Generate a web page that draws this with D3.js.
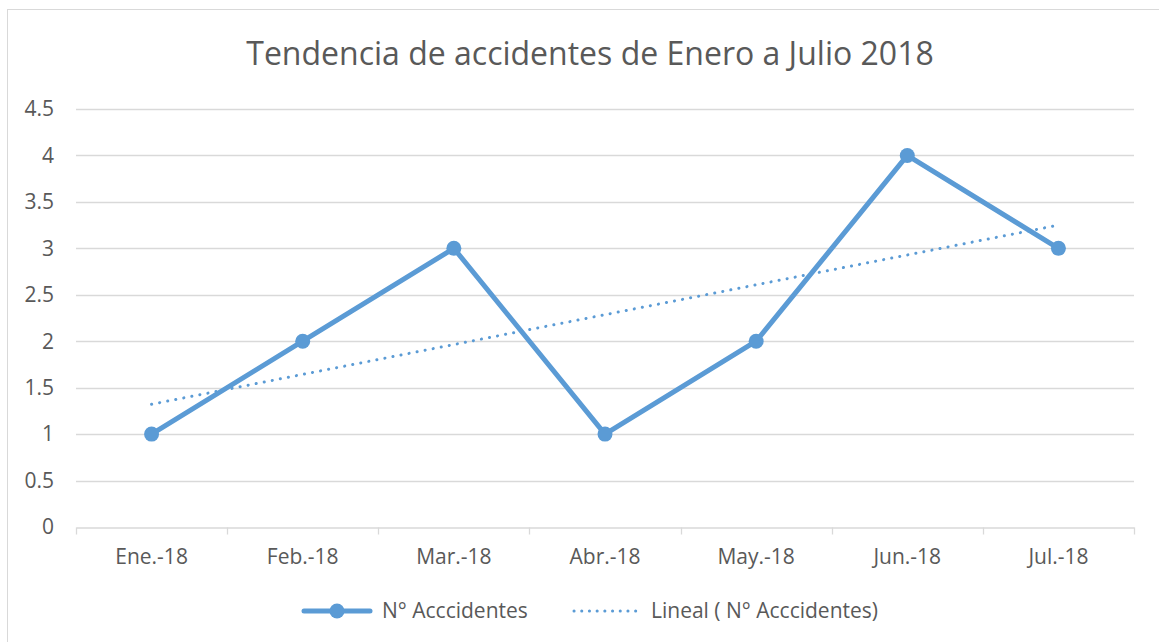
<!DOCTYPE html>
<html>
<head>
<meta charset="utf-8">
<script src="https://cdn.jsdelivr.net/npm/d3@7"></script>
<style>
  body { margin: 0; background: #fff; }
  text { font-family: "Open Sans", "Liberation Sans", sans-serif; fill: #595959; }
</style>
</head>
<body>
<script>
// chart data
const months = ['Ene.-18', 'Feb.-18', 'Mar.-18', 'Abr.-18', 'May.-18', 'Jun.-18', 'Jul.-18']
const accidents = [1, 2, 3, 1, 2, 4, 3]
const yTicks = [0, 0.5, 1, 1.5, 2, 2.5, 3, 3.5, 4, 4.5]
const title = 'Tendencia de accidentes de Enero a Julio 2018'
const seriesName = 'N° Acccidentes'
const trendName = 'Lineal ( N° Acccidentes)'

const width = 1159
const height = 642
const margin = {top: 109, right: 25, bottom: 115, left: 76}
const color = '#5b9bd5'
const labelSize = '21px'

const svg = d3.select('body').append('svg')
  .attr('width', width)
  .attr('height', height)

// outer chart frame
svg.append('rect')
  .attr('x', 7.5).attr('y', 9.5)
  .attr('width', width + 10).attr('height', height + 10)
  .attr('fill', '#fff')
  .attr('stroke', '#d9d9d9')

const x = d3.scaleBand().domain(months).range([margin.left, width - margin.right])
const y = d3.scaleLinear().domain([0, 4.5]).range([height - margin.bottom, margin.top])

svg.append('text')
  .attr('x', 590).attr('y', 65)
  .attr('text-anchor', 'middle')
  .style('font-size', '32px')
  .text(title)

// gridlines
svg.append('g')
  .selectAll('line')
  .data(yTicks.filter((d) => d > 0))
  .join('line')
  .attr('x1', margin.left).attr('x2', width - margin.right)
  .attr('y1', (d) => Math.round(y(d)) + 0.5).attr('y2', (d) => Math.round(y(d)) + 0.5)
  .attr('stroke', '#d9d9d9')
  .attr('stroke-width', 1.3)

// y axis labels
svg.append('g')
  .selectAll('text')
  .data(yTicks)
  .join('text')
  .attr('x', 54).attr('y', (d) => y(d))
  .attr('dy', '0.35em')
  .attr('text-anchor', 'end')
  .style('font-size', labelSize)
  .text((d) => d)

// x axis
const xAxis = svg.append('g')
  .attr('transform', `translate(0, ${Math.round(y(0)) + 0.5})`)
  .call(d3.axisBottom(x).tickSize(0).tickPadding(22))
xAxis.select('.domain').attr('stroke', '#d9d9d9').attr('stroke-width', 1.3)
xAxis.selectAll('text').style('font-size', labelSize).attr('fill', '#595959')
xAxis.append('g')
  .selectAll('line')
  .data(months.concat(['end']))
  .join('line')
  .attr('x1', (d, i) => Math.round(margin.left + i * x.step()) + 0.5)
  .attr('x2', (d, i) => Math.round(margin.left + i * x.step()) + 0.5)
  .attr('y1', 0).attr('y2', 7)
  .attr('stroke', '#d9d9d9')
  .attr('stroke-width', 1.3)

const cx = (d, i) => x(months[i]) + x.bandwidth() / 2

// linear trend (least squares, like the spreadsheet trendline)
const n = accidents.length
const xs = d3.range(1, n + 1)
const mx = d3.mean(xs)
const my = d3.mean(accidents)
const slope = d3.sum(xs, (v, i) => (v - mx) * (accidents[i] - my)) / d3.sum(xs, (v) => (v - mx) ** 2)
const intercept = my - slope * mx

svg.append('line')
  .attr('x1', cx(null, 0)).attr('y1', y(intercept + slope * 1))
  .attr('x2', cx(null, n - 1)).attr('y2', y(intercept + slope * n))
  .attr('stroke', color)
  .attr('stroke-width', 3)
  .attr('stroke-linecap', 'round')
  .attr('stroke-dasharray', '0.1 8.1')

const line = d3.line()
  .x(cx)
  .y((d) => y(d))

svg.append('path')
  .datum(accidents)
  .attr('d', line)
  .attr('fill', 'none')
  .attr('stroke', color)
  .attr('stroke-width', 5)
  .attr('stroke-linejoin', 'round')

svg.append('g')
  .selectAll('circle')
  .data(accidents)
  .join('circle')
  .attr('cx', cx)
  .attr('cy', (d) => y(d))
  .attr('r', 7.5)
  .attr('fill', color)

// legend
const leg = svg.append('g').attr('transform', 'translate(0, 611)')
leg.append('line')
  .attr('x1', 304).attr('x2', 370).attr('y1', 0).attr('y2', 0)
  .attr('stroke', color).attr('stroke-width', 5).attr('stroke-linecap', 'round')
leg.append('circle').attr('cx', 337).attr('cy', 0).attr('r', 7.5).attr('fill', color)
leg.append('text')
  .attr('x', 382).attr('dy', '0.35em')
  .style('font-size', labelSize)
  .text(seriesName)
leg.append('line')
  .attr('x1', 574).attr('x2', 643).attr('y1', 0).attr('y2', 0)
  .attr('stroke', color).attr('stroke-width', 3)
  .attr('stroke-linecap', 'round').attr('stroke-dasharray', '0.1 7.6')
leg.append('text')
  .attr('x', 651).attr('dy', '0.35em')
  .style('font-size', labelSize)
  .text(trendName)
</script>
</body>
</html>
